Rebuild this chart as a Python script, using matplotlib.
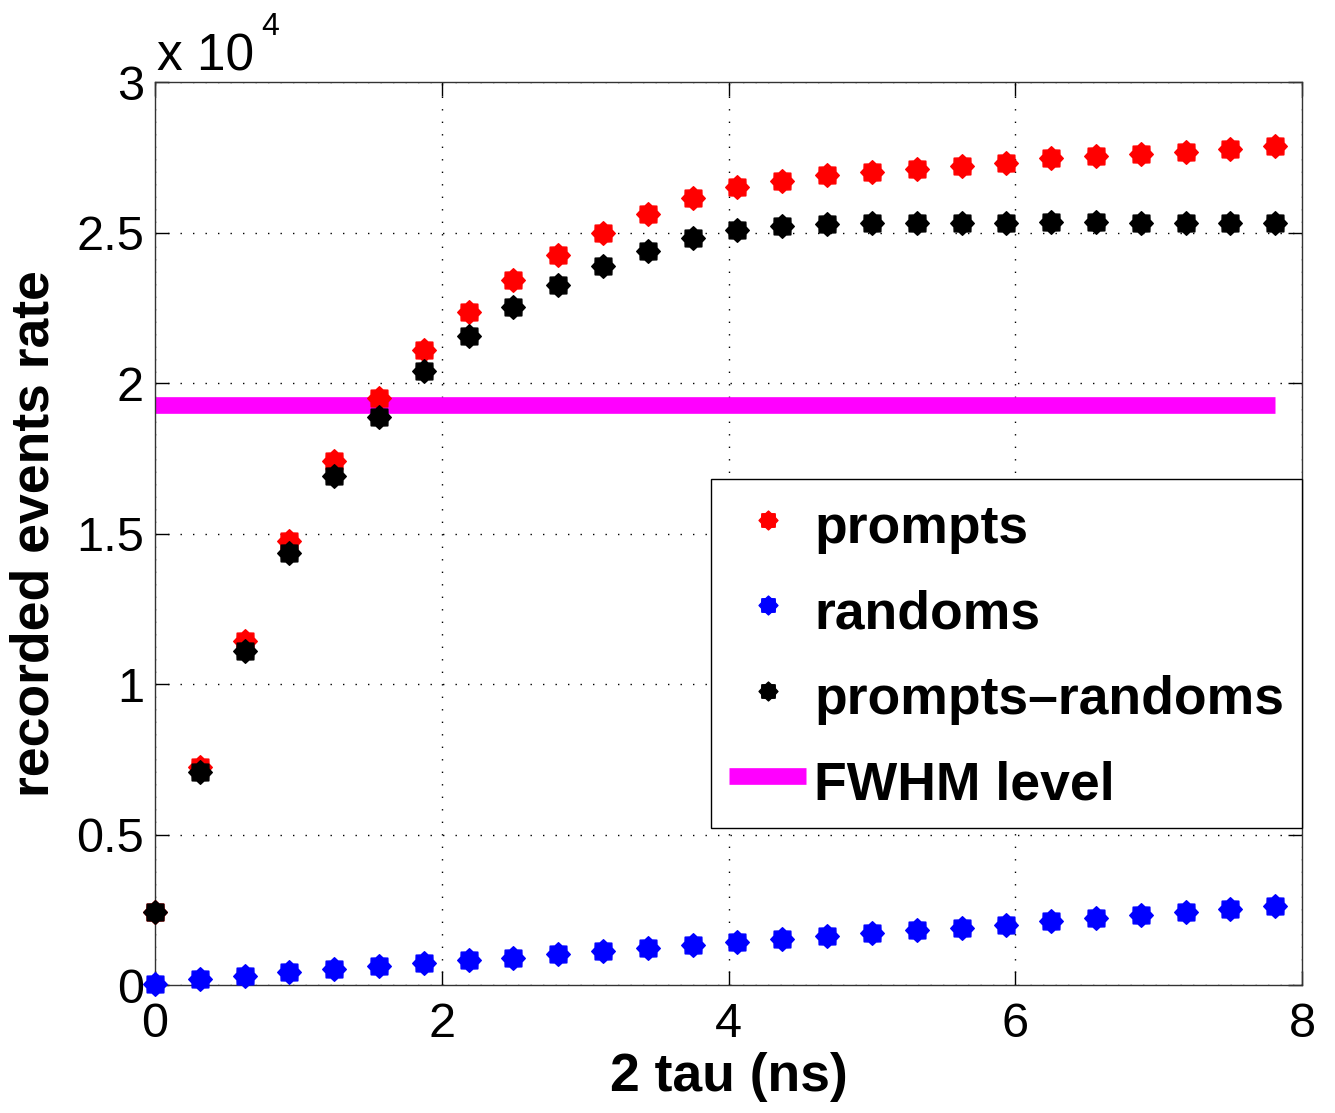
import matplotlib
matplotlib.use("Agg")
import numpy as np
import matplotlib.pyplot as plt
from matplotlib.path import Path
from matplotlib.ticker import FuncFormatter

plt.rcParams['font.family'] = ['Liberation Sans', 'DejaVu Sans']

# 2 tau values (ns), step 0.3125
tau2 = [i * 0.3125 for i in range(26)]

prompts = [2425, 7243, 11429, 14751, 17409, 19502, 21096, 22359, 23422, 24252,
           24983, 25615, 26146, 26512, 26711, 26910, 27010, 27110, 27209, 27309,
           27475, 27542, 27608, 27674, 27774, 27874]
randoms = [33, 199, 299, 432, 532, 631, 731, 831, 897, 1030,
           1130, 1229, 1329, 1429, 1528, 1628, 1728, 1827, 1894, 1993,
           2126, 2226, 2326, 2425, 2525, 2625]
prompts_minus_randoms = [2425, 7076, 11096, 14352, 16910, 18870, 20399, 21561, 22525, 23256,
                         23887, 24385, 24817, 25083, 25216, 25282, 25316, 25316, 25316, 25316,
                         25349, 25349, 25316, 25316, 25316, 25316]
fwhm_level = 19270

# MATLAB-like 8 pointed star marker
ang = np.pi / 2 + np.arange(16) * np.pi / 8
rad = np.where(np.arange(16) % 2 == 0, 1.0, 0.78)
verts = np.column_stack([rad * np.cos(ang), rad * np.sin(ang)])
verts = np.vstack([verts, verts[:1]])
star = Path(verts, closed=True)

fig = plt.figure(figsize=(13.35, 11.13), dpi=100)
ax = fig.add_axes([0.1161, 0.115, 0.8592, 0.8113])

kw = dict(linestyle='none', marker=star, ms=17, clip_on=False, zorder=3)
ax.plot(tau2, prompts, color='red', mec='red', label='prompts', **kw)
ax.plot(tau2, randoms, color='blue', mec='blue', label='randoms', **kw)
ax.plot(tau2, prompts_minus_randoms, color='black', mec='black',
        label='prompts\u2013randoms', **kw)
ax.plot([tau2[0], tau2[-1]], [fwhm_level, fwhm_level], color='#ff00ff', lw=12,
        solid_capstyle='butt', label='FWHM level')

ax.set_xlim(0, 8)
ax.set_ylim(0, 30000)
ax.set_xticks([0, 2, 4, 6, 8])
ax.set_yticks([0, 5000, 10000, 15000, 20000, 25000, 30000])
ax.yaxis.set_major_formatter(FuncFormatter(lambda v, p: '%g' % (v / 1e4)))
ax.tick_params(direction='in', length=10, width=1, labelsize=35, top=True, right=True)
ax.tick_params(axis='x', pad=12)
ax.tick_params(axis='y', pad=8)
ax.grid(True, linestyle=(0, (1, 8)), color='black', linewidth=1)
for s in ax.spines.values():
    s.set_linewidth(1)
    s.set_color('#333333')

ax.set_xlabel('2 tau (ns)', fontsize=38.5, fontweight='bold', labelpad=4)
ax.set_ylabel('recorded events rate', fontsize=38.5, fontweight='bold', labelpad=12)

# MATLAB style exponent label
fig.text(0.1176, 0.937, 'x 10', fontsize=37, ha='left', va='baseline')
fig.text(0.196, 0.9686, '4', fontsize=23, ha='left', va='baseline')

leg = ax.legend(loc='upper right', bbox_to_anchor=(1.0, 0.5605), borderaxespad=0,
                prop={'weight': 'bold', 'size': 38.5}, fancybox=False,
                edgecolor='black', framealpha=1, handlelength=1.45, handletextpad=0.15,
                handleheight=1.25, labelspacing=0.53, borderpad=0.33, markerscale=0.8)
leg.get_frame().set_linewidth(1)

fig.savefig('out.png', dpi=100)
